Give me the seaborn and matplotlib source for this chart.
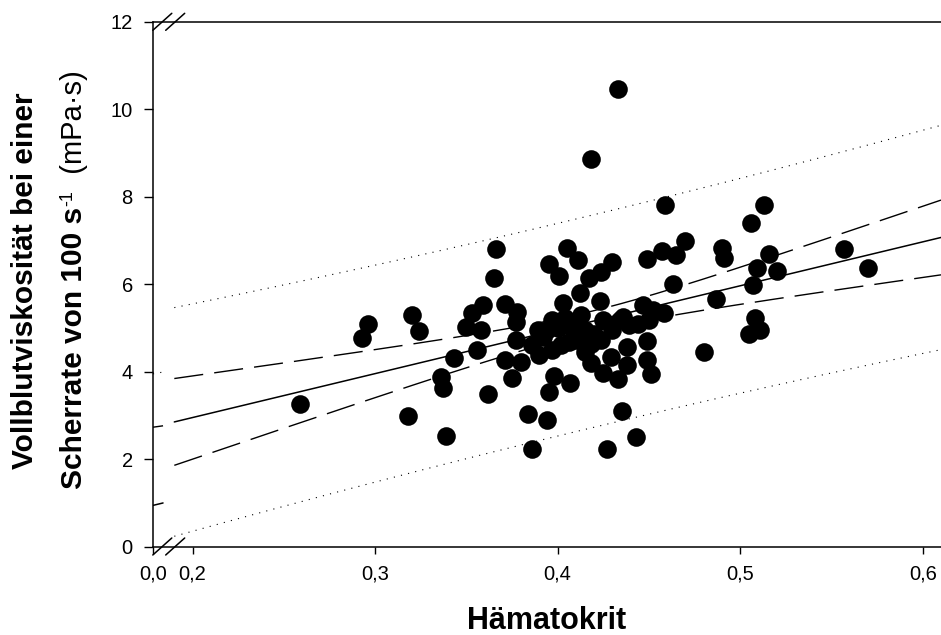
import numpy as np
import pandas as pd
import matplotlib
matplotlib.use("Agg")
import matplotlib.pyplot as plt
import seaborn as sns
from matplotlib.lines import Line2D

# ---------------- data ----------------
hematocrit = [0.259, 0.293, 0.296, 0.320, 0.324, 0.318, 0.336, 0.337, 0.339, 0.343,
              0.350, 0.353, 0.359, 0.358, 0.356, 0.362, 0.366, 0.365, 0.371, 0.378,
              0.377, 0.377, 0.371, 0.380, 0.375, 0.384, 0.394, 0.386, 0.395, 0.398,
              0.407, 0.390, 0.397, 0.389, 0.397, 0.403, 0.410, 0.405, 0.411, 0.395,
              0.401, 0.430, 0.424, 0.417, 0.412, 0.423, 0.425, 0.434, 0.439, 0.424,
              0.438, 0.415, 0.418, 0.429, 0.438, 0.425, 0.433, 0.435, 0.427, 0.443,
              0.418, 0.433, 0.459, 0.449, 0.457, 0.465, 0.470, 0.463, 0.447, 0.452,
              0.458, 0.450, 0.449, 0.449, 0.451, 0.480, 0.487, 0.490, 0.491, 0.506,
              0.513, 0.516, 0.509, 0.520, 0.507, 0.508, 0.511, 0.505, 0.557, 0.570,
              0.394, 0.404, 0.412, 0.406, 0.392, 0.400, 0.407, 0.415, 0.420, 0.402,
              0.418, 0.430, 0.436, 0.413, 0.386, 0.444]
viscosity = [3.27, 4.76, 5.10, 5.30, 4.93, 2.98, 3.87, 3.62, 2.53, 4.32,
             5.02, 5.34, 5.52, 4.95, 4.49, 3.48, 6.80, 6.13, 5.54, 5.37,
             5.14, 4.72, 4.26, 4.22, 3.86, 3.02, 2.89, 2.24, 3.54, 3.90,
             3.73, 4.38, 4.49, 4.95, 5.18, 5.57, 4.72, 6.83, 6.55, 6.45,
             6.18, 6.51, 6.28, 6.13, 5.80, 5.61, 5.18, 5.18, 5.06, 4.72,
             4.56, 4.45, 4.19, 4.34, 4.15, 3.96, 3.84, 3.10, 2.24, 2.51,
             8.86, 10.46, 7.81, 6.57, 6.76, 6.66, 6.99, 6.00, 5.52, 5.41,
             5.33, 5.18, 4.70, 4.26, 3.94, 4.45, 5.66, 6.82, 6.59, 7.39,
             7.81, 6.69, 6.37, 6.30, 5.98, 5.23, 4.95, 4.86, 6.80, 6.36,
             4.95, 5.22, 4.80, 4.68, 4.80, 5.00, 5.05, 4.95, 4.85, 4.60,
             4.62, 4.95, 5.25, 5.30, 4.60, 5.10]
x_ticks = [0.0, 0.2, 0.3, 0.4, 0.5, 0.6]
x_tick_labels = ["0,0", "0,2", "0,3", "0,4", "0,5", "0,6"]
y_ticks = [0, 2, 4, 6, 8, 10, 12]
x_label = "Hämatokrit"
y_label_line1 = "Vollblutviskosität bei einer"
y_label_line2_bold = "Scherrate von 100 s"
y_label_sup = "-1"
y_label_unit = "  (mPa·s)"

df = pd.DataFrame({"hkt": hematocrit, "visc": viscosity})

# ---------------- style ----------------
sns.set_theme(style="white")
plt.rcParams["font.family"] = ["Liberation Sans", "DejaVu Sans"]
plt.rcParams["text.color"] = "black"
plt.rcParams["axes.labelcolor"] = "black"
plt.rcParams["xtick.color"] = "black"
plt.rcParams["ytick.color"] = "black"

W, H = 941, 635
fig = plt.figure(figsize=(W / 100, H / 100), dpi=100)
ax_l, ax_r, ax_t, ax_b = 153, 941, 21.8, 546.5
ax = fig.add_axes([ax_l / W, (H - ax_b) / H, (ax_r - ax_l) / W, (ax_b - ax_t) / H])

# broken x axis: [0, A] | gap | [B, 0.61]
A, B, G = 0.0055, 0.19, 0.00617


def fwd(x):
    x = np.asarray(x, float)
    return np.where(x <= A, x, np.where(x >= B, A + G + (x - B), A + (x - A) * G / (B - A)))


def inv(u):
    u = np.asarray(u, float)
    return np.where(u <= A, u, np.where(u >= A + G, B + (u - A - G), A + (u - A) * (B - A) / G))


ax.set_xscale("function", functions=(fwd, inv))

# ---------------- regression with 95% CI / PI ----------------
x = np.asarray(hematocrit)
y = np.asarray(viscosity)
n = len(x)
slope, intercept = np.polyfit(x, y, 1)
resid = y - (intercept + slope * x)
s = np.sqrt(np.sum(resid ** 2) / (n - 2))
sxx = np.sum((x - x.mean()) ** 2)
z = 1.959964
dfree = n - 2
tval = z + (z ** 3 + z) / (4 * dfree) + (5 * z ** 5 + 16 * z ** 3 + 3 * z) / (96 * dfree ** 2)

for xs in (np.linspace(0.0, A, 30), np.linspace(B, 0.61, 300)):
    fit = intercept + slope * xs
    se_fit = s * np.sqrt(1.0 / n + (xs - x.mean()) ** 2 / sxx)
    se_pred = s * np.sqrt(1.0 + 1.0 / n + (xs - x.mean()) ** 2 / sxx)
    ax.plot(xs, fit, color="black", lw=1.1, zorder=2)
    for sign in (1, -1):
        ax.plot(xs, fit + sign * tval * se_fit, color="black", lw=1.0,
                linestyle=(0, (21, 8)), zorder=2)
        ax.plot(xs, fit + sign * tval * se_pred, color="black", lw=0.8,
                linestyle=(0, (1, 5.6)), zorder=2)

sns.scatterplot(data=df, x="hkt", y="visc", ax=ax, s=180, color="black",
                edgecolor="black", linewidth=0, zorder=3, legend=False)

ax.set_xlim(0.0, 0.61)
ax.set_ylim(0, 12)
ax.set_xticks(x_ticks)
ax.set_xticklabels(x_tick_labels)
ax.set_yticks(y_ticks)
ax.set_yticklabels([str(v) for v in y_ticks])
ax.set_xlabel("")
ax.set_ylabel("")
ax.grid(False)
ax.set_facecolor("white")
for side in ("left", "top", "bottom"):
    ax.spines[side].set_visible(True)
    ax.spines[side].set_color("black")
    ax.spines[side].set_linewidth(1.1)
ax.spines["right"].set_visible(False)
ax.tick_params(axis="y", direction="out", length=6.5, width=1.0, labelsize=14.5,
               pad=8, colors="black", left=True)
ax.tick_params(axis="x", direction="out", length=5, width=1.0, labelsize=14.5,
               pad=8, colors="black", bottom=True)

# break marks
for yc in (ax_t, ax_b):
    for xc in (162.3, 175.2):
        fig.add_artist(Line2D([(xc - 9.5) / W, (xc + 9.5) / W],
                              [(H - (yc + 8.5)) / H, (H - (yc - 8.5)) / H],
                              color="black", lw=1.1))

# x label
fig.text(547 / W, (H - 629) / H, x_label, ha="center", va="baseline",
         fontsize=22, fontweight="bold", color="black")

# y label, line 1
yc_pix = H - 280.5
fig.text(33.5 / W, yc_pix / H, y_label_line1, rotation=90, rotation_mode="anchor",
         ha="center", va="baseline", fontsize=21.5, fontweight="bold", color="black")

# y label, line 2 (mixed weights and superscript)
fig.canvas.draw()
r = fig.canvas.get_renderer()
t1 = fig.text(0, 0, y_label_line2_bold, rotation=90, rotation_mode="anchor",
              ha="left", va="baseline", fontsize=21.5, fontweight="bold", color="black")
t2 = fig.text(0, 0, y_label_sup, rotation=90, rotation_mode="anchor",
              ha="left", va="baseline", fontsize=13, color="black")
t3 = fig.text(0, 0, y_label_unit, rotation=90, rotation_mode="anchor",
              ha="left", va="baseline", fontsize=21, color="black")
h1 = t1.get_window_extent(r).height
h2 = t2.get_window_extent(r).height
h3 = t3.get_window_extent(r).height
start = yc_pix - (h1 + h2 + h3) / 2
base2 = 82.0
t1.set_position((base2 / W, start / H))
t2.set_position(((base2 - 10) / W, (start + h1 + 1) / H))
t3.set_position((base2 / W, (start + h1 + h2 + 1) / H))

fig.savefig("out.png", dpi=100, facecolor="white")
